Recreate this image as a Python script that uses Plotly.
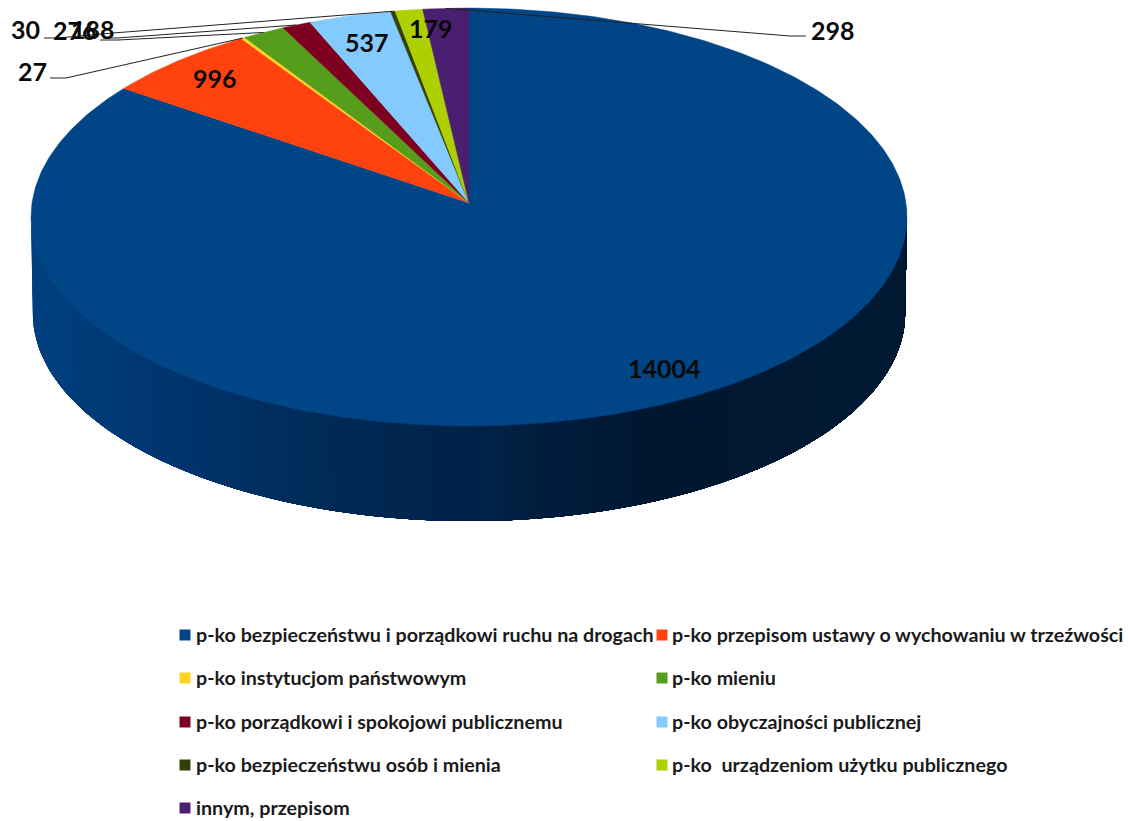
import numpy as np
import plotly.graph_objects as go

categories = [
    "p-ko bezpieczeństwu i porządkowi ruchu na drogach",
    "p-ko przepisom ustawy o wychowaniu w trzeźwości",
    "p-ko instytucjom państwowym",
    "p-ko mieniu",
    "p-ko porządkowi i spokojowi publicznemu",
    "p-ko obyczajności publicznej",
    "p-ko bezpieczeństwu osób i mienia",
    "p-ko  urządzeniom użytku publicznego",
    "innym, przepisom",
]
values = [14004, 996, 27, 276, 188, 537, 30, 179, 298]
colors = ["#004586", "#FF420E", "#FFD320", "#579D1C", "#7E0021", "#83CAFF", "#314004", "#AECF00", "#4B1F6F"]

# geometry of the tilted pie (page-pixel axes)
AX, AY = 469, 203      # apex
R, A, B = 437, 208, 0.067
DEPTH = 96
FONT = "Lato"


def project(theta, scale=1.0, dy=0.0):
    u, v = np.sin(theta), np.cos(theta)
    w = 1 + B * v
    return AX + scale * R * u / w, AY - scale * A * v / w + dy


fractions = np.array(values) / sum(values)
edges = np.concatenate([[0], np.cumsum(fractions)]) * 2 * np.pi
mids = (edges[:-1] + edges[1:]) / 2

fig = go.Figure()

# side wall gradient: painted left to right, each layer running to the right end
wall_stops_x = [31, 60, 150, 250, 300, 450, 550, 640, 907]
wall_stops_rgb = [(0, 64, 128), (0, 62, 124), (0, 54, 112), (0, 47, 98), (0, 44, 90),
                  (0, 35, 74), (0, 29, 61), (0, 23, 50), (0, 26, 51)]
t0 = np.arccos(-B)
ts = np.linspace(2 * np.pi - t0, t0, 121)
for t in ts[:-1]:
    tt = np.linspace(t, t0, max(4, int((t - t0) * 30)))
    xt, yt = project(tt)
    xb, yb = project(tt[::-1], 0.996, DEPTH)
    xm = float(xt[0])
    rgb = [np.interp(xm, wall_stops_x, [c[i] for c in wall_stops_rgb]) for i in range(3)]
    col = "rgb(%d,%d,%d)" % tuple(rgb)
    fig.add_trace(go.Scatter(x=np.r_[xt, xb], y=np.r_[yt, yb], mode="lines", fill="toself",
                             fillcolor=col, line=dict(width=0),
                             hoverinfo="skip", showlegend=False))

# top face slices
for name, val, col, a, b in zip(categories, values, colors, edges[:-1], edges[1:]):
    tt = np.linspace(a, b, max(3, int((b - a) * 80)))
    xs, ys = project(tt)
    fig.add_trace(go.Scatter(x=np.r_[AX, xs, AX], y=np.r_[AY, ys, AY], mode="lines", fill="toself",
                             fillcolor=col, line=dict(color=col, width=0.5),
                             name=name, text=str(val), hoverinfo="name+text", showlegend=False))

# leader lines: slice index -> elbow points from the label
leaders = {
    2: [(50, 78), (66, 78)],
    3: [(100, 40), (118, 40)],
    4: [(103, 38), (117, 38)],
    6: [(44, 38), (58, 38), (113, 33)],
    8: [(806, 36), (790, 36)],
}
for i, pts in leaders.items():
    ex, ey = project(mids[i])
    fig.add_trace(go.Scatter(x=[p[0] for p in pts] + [float(ex)], y=[p[1] for p in pts] + [float(ey)],
                             mode="lines", line=dict(color="#222222", width=1),
                             hoverinfo="skip", showlegend=False))

# data labels
label_pos = [(664, 368), (215, 78), (32, 71), (75, 30), (93, 29), (367, 42), (25, 29), (431, 28), (833, 30)]
for val, (lx, ly) in zip(values, label_pos):
    fig.add_annotation(x=lx, y=ly, text="<b>%d</b>" % val, showarrow=False,
                       font=dict(family=FONT, size=25, color="#0a0a0a"))

# legend key
col_x = [(185, 193.5), (662, 669.5)]
row_y = [635, 678, 722, 765, 808]
for i, (name, col) in enumerate(zip(categories, colors)):
    sx, tx = col_x[i % 2]
    y = row_y[i // 2]
    fig.add_trace(go.Scatter(x=[sx], y=[y], mode="markers",
                             marker=dict(symbol="square", size=11, color=col),
                             hoverinfo="skip", showlegend=False))
    fig.add_annotation(x=tx, y=y - 1, text="<b>%s</b>" % name, showarrow=False, xanchor="left",
                       font=dict(family=FONT, size=19.7, color="#1a1a1a"))

fig.update_layout(
    width=1128, height=821, margin=dict(l=0, r=0, t=0, b=0),
    paper_bgcolor="white", plot_bgcolor="white", showlegend=False,
    xaxis=dict(range=[0, 1128], visible=False, fixedrange=True),
    yaxis=dict(range=[821, 0], visible=False, fixedrange=True),
)
fig.write_html("out.html", config={"displayModeBar": False},
               post_script="document.body.style.margin='0';document.body.style.overflow='hidden';")
